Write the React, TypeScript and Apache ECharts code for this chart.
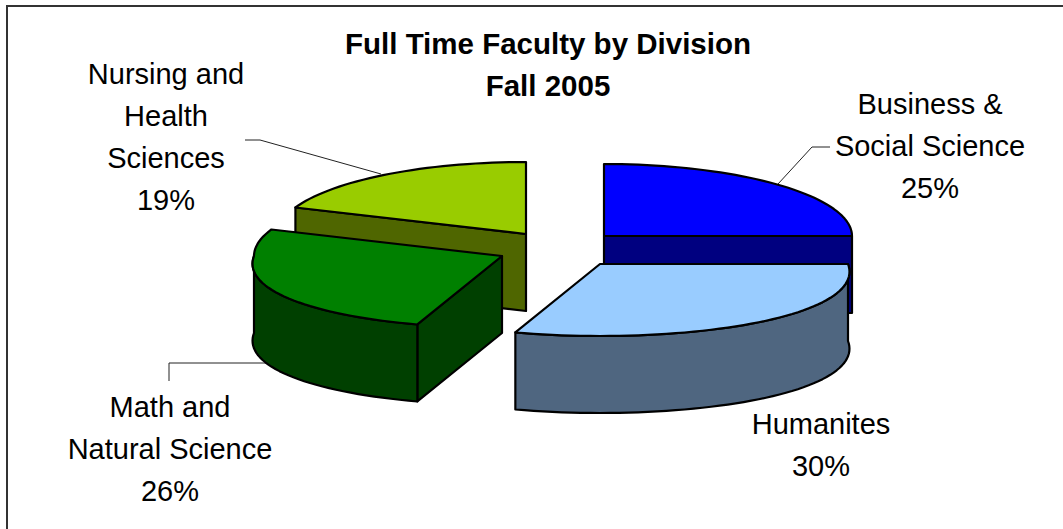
import React, { useEffect, useRef } from "react";
import * as echarts from "echarts";

const titleLines = ["Full Time Faculty by Division", "Fall 2005"];
const categories = ["Business &\nSocial Science", "Humanites", "Math and\nNatural Science", "Nursing and\nHealth\nSciences"];
const shares = [25, 30, 26, 19];
const topColors = ["#0000FF", "#99CCFF", "#008000", "#99CC00"];
const sideColors = ["#000080", "#4F6680", "#004000", "#4F6600"];

// Layout of the exploded slices (centre of each slice's top face) and label anchors.
const centers = [[604, 236], [600, 264], [502, 256], [526, 234]];
const labelAnchors = [[930, 83], [821, 403], [170, 386], [166, 53]];
const paintOrder = [1, 3, 2, 0];
const RX = 248, RY = 72, DEPTH = 77, PERSPECTIVE = 0.11;
const LABEL_LINE = 42;

const total = shares.reduce((a, b) => a + b, 0);

function pt(c: number[], deg: number, dy = 0) {
  const a = (deg * Math.PI) / 180;
  const ny = -Math.cos(a);
  return [c[0] + RX * Math.sin(a) * (1 + PERSPECTIVE * Math.max(0, ny)), c[1] + RY * ny + dy];
}
function arc(c: number[], from: number, to: number, dy = 0) {
  const out: number[][] = [];
  const n = Math.max(2, Math.ceil(Math.abs(to - from) / 2));
  for (let i = 0; i <= n; i++) out.push(pt(c, from + ((to - from) * i) / n, dy));
  return out;
}

function renderSlice(params: any, api: any) {
  const i = params.dataIndex;
  const before = shares.slice(0, i).reduce((a, b) => a + b, 0);
  const start = (before / total) * 360;
  const end = start + (api.value(0) / total) * 360;
  const c = centers[i];
  const line = { stroke: "#000", lineWidth: 2.2, lineJoin: "round" };
  const z2 = paintOrder[i] * 10;
  const children: any[] = [];
  const face = (deg: number) => {
    const p = pt(c, deg);
    const q = pt(c, deg, DEPTH);
    children.push({
      type: "polygon", z2,
      shape: { points: [c, p, q, [c[0], c[1] + DEPTH]] },
      style: { fill: sideColors[i], ...line },
    });
  };
  if (Math.sin((start * Math.PI) / 180) < -1e-6) face(start);
  if (Math.sin((end * Math.PI) / 180) > 1e-6) face(end);
  const a0 = Math.max(start, 90), a1 = Math.min(end, 270);
  if (a1 > a0) {
    children.push({
      type: "polygon", z2: z2 + 1,
      shape: { points: [...arc(c, a0, a1), ...arc(c, a1, a0, DEPTH)] },
      style: { fill: sideColors[i], ...line },
    });
  }
  children.push({
    type: "polygon", z2: z2 + 2,
    shape: { points: [c, ...arc(c, start, end)] },
    style: { fill: topColors[i], ...line },
  });
  children.push({
    type: "text", z2: 100,
    x: labelAnchors[i][0], y: labelAnchors[i][1],
    style: {
      text: `${categories[i]}\n${api.value(0)}%`,
      fill: "#000",
      font: '29px "Liberation Sans", Arial, sans-serif',
      lineHeight: LABEL_LINE,
      align: "center",
      verticalAlign: "top",
    },
  });
  return { type: "group", children };
}

const leaderStyle = { stroke: "#222", lineWidth: 1, fill: "none" };

export default function App() {
  const ref = useRef<HTMLDivElement>(null);
  useEffect(() => {
    const chart = echarts.init(ref.current!, null, { renderer: "svg" });
    chart.setOption({
      animation: false,
      backgroundColor: "#fff",
      title: {
        text: titleLines.join("\n"),
        left: 543,
        top: 17,
        textAlign: "center",
        textStyle: {
          fontFamily: '"Liberation Sans", Arial, sans-serif',
          fontWeight: "bold",
          fontSize: 29.5,
          lineHeight: 42,
          color: "#000",
        },
      },
      graphic: [
        { type: "polyline", shape: { points: [[7, 529], [7, 6], [1063, 6]] }, style: { stroke: "#333", lineWidth: 2, fill: "none" }, silent: true },
        { type: "polyline", shape: { points: [[778, 184], [812, 147], [830, 147]] }, style: leaderStyle, silent: true },
        { type: "polyline", shape: { points: [[245, 140], [260, 140], [381, 174]] }, style: leaderStyle, silent: true },
        { type: "polyline", shape: { points: [[169, 381], [169, 363], [278, 363]] }, style: leaderStyle, silent: true },
      ],
      series: [
        {
          type: "custom",
          coordinateSystem: "none",
          renderItem: renderSlice,
          silent: true,
          data: shares.map((v) => [v]),
        },
      ],
    });
    return () => chart.dispose();
  }, []);
  return <div ref={ref} style={{ position: "absolute", left: 0, top: 0, width: 1063, height: 529 }} />;
}
